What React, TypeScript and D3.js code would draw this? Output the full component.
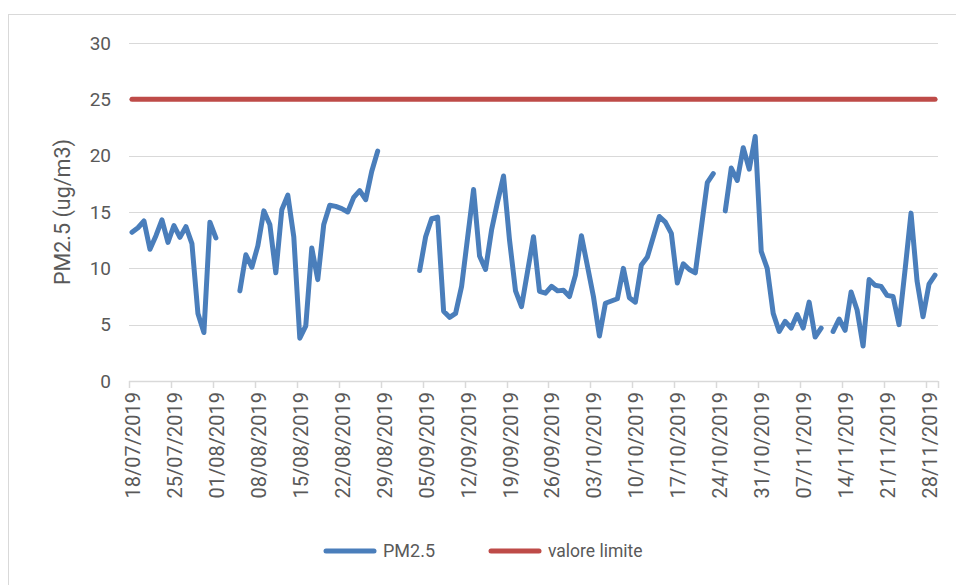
import React from "react";
import * as d3 from "d3";

const START_DATE = "2019-07-18";
const DAY_COUNT = 135;

// Daily PM2.5 values (ug/m3) from 18/07/2019, null = missing
const pm25Seg1 = [13.2, 13.6, 14.2, 11.7, 12.9, 14.3, 12.3, 13.8, 12.75, 13.7, 12.2, 6.0, 4.3, 14.1, 12.7];
const gapA = [null, null, null];
const pm25Seg2 = [8.0, 11.2, 10.1, 12.0, 15.1, 13.9, 9.6, 15.2, 16.5, 12.8, 3.8, 4.9, 11.8, 9.0, 13.9, 15.6, 15.5, 15.3, 15.0, 16.3, 16.9, 16.1, 18.6, 20.4];
const gapB = [null, null, null, null, null, null];
const pm25Seg3 = [9.8, 12.8, 14.4, 14.55, 6.2, 5.65, 6.0, 8.4, 12.7, 17.0, 11.1, 9.9, 13.4, 15.9, 18.2, 12.5, 8.0, 6.6, 9.7, 12.8, 7.96, 7.8, 8.4, 8.0, 8.05, 7.5, 9.4, 12.9, 10.2, 7.5, 4.0, 6.9, 7.1, 7.3, 10.0, 7.4, 7.0, 10.3, 11.0, 12.8, 14.6, 14.1, 13.1, 8.7, 10.4, 9.9, 9.6, 13.6, 17.6, 18.4];
const gapC = [null];
const pm25Seg4 = [15.1, 18.9, 17.8, 20.7, 18.8, 21.7, 11.5, 10.0, 6.0, 4.4, 5.3, 4.7, 5.9, 4.7, 7.0, 3.9, 4.7];
const gapD = [null];
const pm25Seg5 = [4.4, 5.5, 4.5, 7.9, 6.3, 3.1, 9.0, 8.5, 8.4, 7.6, 7.5, 5.0, 9.85, 14.9, 8.9, 5.7, 8.6, 9.4];

const pm25: (number | null)[] = [
  ...pm25Seg1, ...gapA, ...pm25Seg2, ...gapB, ...pm25Seg3, ...gapC, ...pm25Seg4, ...gapD, ...pm25Seg5,
];
const LIMIT = 25;
const yTicks = [0, 5, 10, 15, 20, 25, 30];
const tickStepDays = 7;
const seriesNames = ["PM2.5", "valore limite"];
const seriesColors = ["#4A7EBB", "#BE4B48"];

const W = 956;
const H = 585;
const FONT = "Roboto, 'Open Sans', sans-serif";
const TEXT = "#595959";

export default function App() {
  const start = d3.timeParse("%Y-%m-%d")(START_DATE) as Date;
  const dates = d3.timeDay.range(start, d3.timeDay.offset(start, DAY_COUNT));
  const end = d3.timeDay.offset(start, DAY_COUNT);

  const x = d3.scaleTime().domain([start, end]).range([129, 938]);
  const y = d3.scaleLinear().domain([0, 30]).range([381, 43]);
  const mid = (d: Date) => x(d3.timeHour.offset(d, 12));

  const pmData = dates.map((d, i) => ({ d, v: pm25[i] }));
  const limData = dates.map((d) => ({ d, v: LIMIT }));

  const line = d3
    .line<{ d: Date; v: number | null }>()
    .defined((p) => p.v != null)
    .x((p) => mid(p.d))
    .y((p) => y(p.v as number));

  const tickDates = dates.filter((_, i) => i % tickStepDays === 0);
  const fmt = d3.timeFormat("%d/%m/%Y");

  return (
    <svg width={W} height={H} style={{ position: "absolute", left: 0, top: 0, background: "#fff" }}>
      <rect x={8.5} y={14.5} width={W} height={H} fill="#fff" stroke="#D9D9D9" strokeWidth={1} />
      {yTicks.slice(1).map((t) => (
        <line key={t} x1={129} x2={938} y1={Math.round(y(t)) + 0.5} y2={Math.round(y(t)) + 0.5} stroke="#D9D9D9" strokeWidth={1} />
      ))}
      <line x1={129} x2={938} y1={381.5} y2={381.5} stroke="#D9D9D9" strokeWidth={1.5} />
      {tickDates.map((d, i) => (
        <line key={i} x1={Math.round(x(d)) + 0.5} x2={Math.round(x(d)) + 0.5} y1={381} y2={388} stroke="#D9D9D9" strokeWidth={1.5} />
      ))}
      <line x1={938.5} x2={938.5} y1={381} y2={388} stroke="#D9D9D9" strokeWidth={1.5} />
      {yTicks.map((t) => (
        <text key={t} x={111} y={y(t)} dy="0.35em" textAnchor="end" fontFamily={FONT} fontSize={19} fill={TEXT}>
          {t}
        </text>
      ))}
      {tickDates.map((d, i) => (
        <text
          key={i}
          transform={`translate(${x(d) + 4},392) rotate(-90)`}
          dy="0.35em"
          textAnchor="end"
          fontFamily={FONT}
          fontSize={20}
          fill={TEXT}
        >
          {fmt(d)}
        </text>
      ))}
      <text
        transform={`translate(62,${(y(0) + y(30)) / 2}) rotate(-90)`}
        dy="0.35em"
        textAnchor="middle"
        fontFamily={FONT}
        fontSize={21.5}
        fill={TEXT}
      >
        PM2.5 (ug/m3)
      </text>
      <path d={line(limData) || ""} fill="none" stroke={seriesColors[1]} strokeWidth={5} strokeLinecap="round" />
      <path d={line(pmData) || ""} fill="none" stroke={seriesColors[0]} strokeWidth={5} strokeLinecap="round" strokeLinejoin="round" />
      <g>
        <line x1={326} x2={374} y1={551} y2={551} stroke={seriesColors[0]} strokeWidth={5} strokeLinecap="round" />
        <text x={383} y={551} dy="0.35em" fontFamily={FONT} fontSize={18} fill={TEXT}>
          {seriesNames[0]}
        </text>
        <line x1={491} x2={539} y1={551} y2={551} stroke={seriesColors[1]} strokeWidth={5} strokeLinecap="round" />
        <text x={548} y={551} dy="0.35em" fontFamily={FONT} fontSize={17.5} fill={TEXT}>
          {seriesNames[1]}
        </text>
      </g>
    </svg>
  );
}
